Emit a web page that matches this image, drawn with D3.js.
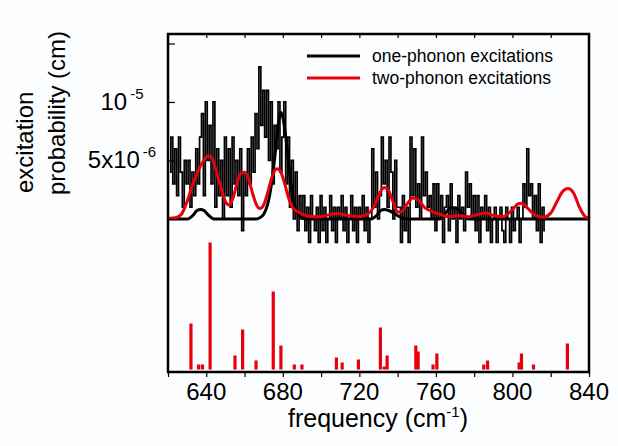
<!DOCTYPE html>
<html><head><meta charset="utf-8">
<script src="https://cdn.jsdelivr.net/npm/d3@7"></script>
<style>
body{margin:0;background:#fcfdff}
svg{display:block}
text{font-family:"Liberation Sans",Arial,Helvetica,sans-serif;fill:#000}
</style>
</head><body>
<svg id="chart" width="618" height="446"></svg>
<script>
// ---------- data ----------
// noisy histogram (units of 1e-6 cm), 1 cm^-1 bins starting at 621
const histStart = 621;
const histValues = [
  4, 7, 3, 6, 2, 7, 4, 1, 5, 3,
  5, 1, 4, 2, 6, 3, 7, 9, 2, 10,
  5, 8, 3, 10, 1, 6, 2, 5, 0, 7,
  2, 6, 1, 7, 3, 5, 2, 6, -1, 4,
  2, 6, 3, 7, 4, 9, 6, 13, 8, 11,
  7, 11, 5, 10, 3, 8, 6, 10, 4, 7,
  10, 3, 7, 1, 5, 0, 4, -1, 2, 0,
  2, -1, 1, -2, 2, 0, -1, 1, -2, 2,
  -1, 1, -2, 0, 2, -1, 1, -2, 1, 0,
  2, -1, 1, -2, 0, 2, -1, 1, -2, 1,
  0, 2, -1, 1, -2, 0, 6, 1, 4, 0,
  2, 7, 3, 5, 1, 7, 4, 0, 5, 1,
  1, -2, 2, -1, 1, -2, 7, 2, 6, 1,
  3, 0, 7, 2, 4, 1, 2, 0, 3, -1,
  3, 0, 2, -2, 1, 2, -1, 3, 0, 1,
  -2, 2, 0, 1, -1, 4, 1, 3, 0, 2,
  -1, 2, -2, 1, 0, 2, -1, 1, -2, 0,
  1, -2, 0, 1, -1, -2, 1, 0, -2, 1,
  -1, 0, 1, -2, 0, 3, 1, 6, 2, 3,
  0, 2, -1, 3, -2, 1, -1
];

// one-phonon excitations (smooth black), units 1e-6
const oneFreq = [620, 630, 633, 635, 637, 639, 641, 644, 666, 668, 670, 672, 674, 676, 678, 679, 680, 682, 684, 686, 688, 690, 693,
                 726, 729, 731, 733, 735, 738, 741, 744, 762, 765, 768, 771, 774, 777, 840];
const oneVal  = [0, 0, 0.3, 0.7, 0.8, 0.7, 0.35, 0, 0, 0.1, 0.4, 1.2, 2.9, 5.6, 8.5, 9.1, 8.7, 6.4, 3.3, 1.3, 0.4, 0.1, 0,
                 0, 0.3, 0.7, 0.8, 0.75, 0.5, 0.2, 0, 0, 0.5, 0.95, 0.9, 0.4, 0, 0];

// two-phonon excitations (smooth red), units 1e-6
const twoFreq = [620, 624, 627, 630, 633, 636, 639, 641, 643, 645, 648, 650, 652, 654, 656, 658, 660, 662, 664, 666, 668, 670,
                 672, 674, 676, 677, 679, 681, 683, 685, 688, 692, 696, 700, 705, 709, 714, 720, 725, 728, 730, 733, 735,
                 738, 740, 742, 745, 748, 751, 754, 757, 762, 767, 772, 777, 782, 786, 790, 795, 800, 803, 805, 808, 812,
                 816, 820, 823, 826, 829, 832, 835, 838, 840];
const twoVal  = [0.05, 0.1, 0.4, 1.5, 3.0, 4.2, 5.1, 5.4, 5.2, 4.2, 2.5, 1.5, 1.2, 1.8, 3.0, 3.9, 4.0, 3.5, 2.3, 1.3, 0.9, 1.2,
                 2.2, 3.4, 4.2, 4.3, 4.0, 3.0, 1.8, 1.0, 0.6, 0.3, 0.2, 0.2, 0.4, 0.45, 0.3, 0.2, 0.5, 1.2, 2.0, 2.7, 2.5,
                 1.3, 0.6, 0.6, 1.3, 1.8, 1.6, 1.0, 0.7, 0.4, 0.2, 0.3, 0.2, 0.4, 0.5, 0.3, 0.2, 0.8, 1.3, 1.35, 0.9, 0.3,
                 0.15, 0.5, 1.4, 2.3, 2.6, 2.2, 1.0, 0.2, 0.05];

// red sticks (two-phonon lines, arbitrary intensity)
const stickFreq = [632, 636, 638, 642, 655, 659, 666, 675, 679, 686, 690, 708, 711, 719.5, 731, 733, 734.5,
                   749.5, 750.7, 758.5, 760.5, 785, 787, 803.5, 804.7, 811, 828.7];
const stickInt  = [46, 5, 5, 127, 14, 40, 9, 78, 24, 5, 5, 12, 7, 10, 42, 3, 14,
                   24, 18, 5, 16, 5, 9, 7, 16, 5, 26];

// axis ticks / labels
const xTickValues = [620, 640, 660, 680, 700, 720, 740, 760, 780, 800, 820, 840];
const xLabelValues = [640, 680, 720, 760, 800, 840];
const yTickValues = [0, 5e-6, 1e-5, 1.5e-5];
const yLabelValues = [5e-6, 1e-5];
const yLabelMant = ["5x10", "10"];
const yLabelExp = ["-6", "-5"];
const legendLabels = ["one-phonon excitations", "two-phonon excitations"];
const seriesColors = ["#000000", "#e8000b"];

// ---------- layout ----------
const svg = d3.select("#chart");
const L = 168, R = 589, T = 34, B = 372;
const x = d3.scaleLinear().domain([620, 840]).range([L, R]);
const y = d3.scaleLinear().domain([-13.08e-6, 15.81e-6]).range([B, T]);
const yStick = d3.scaleLinear().domain([0, 130]).range([369.5, 239.5]);

const g = svg.append("g");

// sticks
g.selectAll("rect.stick").data(stickFreq.map((f, i) => ({f, v: stickInt[i]})))
  .enter().append("rect")
  .attr("x", d => x(d.f) - 1.6).attr("width", 3.2)
  .attr("y", d => yStick(d.v)).attr("height", d => yStick(0) - yStick(d.v))
  .attr("fill", seriesColors[1]);

// histogram
const histPts = histValues.map((v, i) => [histStart + i, v * 1e-6]);
const stepLine = d3.line().x(d => x(d[0])).y(d => y(d[1])).curve(d3.curveStep);
g.append("path").attr("d", stepLine(histPts))
  .attr("fill", "none").attr("stroke", "#000").attr("stroke-width", 1.7);

// smooth curves
const smooth = d3.line().x(d => x(d[0])).y(d => y(d[1] * 1e-6)).curve(d3.curveMonotoneX);
g.append("path").attr("d", smooth(oneFreq.map((f, i) => [f, oneVal[i]])))
  .attr("fill", "none").attr("stroke", seriesColors[0]).attr("stroke-width", 3);
g.append("path").attr("d", smooth(twoFreq.map((f, i) => [f, twoVal[i]])))
  .attr("fill", "none").attr("stroke", seriesColors[1]).attr("stroke-width", 3);

// frame
svg.append("rect").attr("x", L).attr("y", T).attr("width", R - L).attr("height", B - T)
  .attr("fill", "none").attr("stroke", "#000").attr("stroke-width", 2.5);

// bottom axis (outward ticks)
const xb = svg.append("g").attr("transform", `translate(0,${B})`)
  .call(d3.axisBottom(x).tickValues(xTickValues).tickSize(5).tickFormat(""));
xb.select(".domain").remove();
xb.selectAll(".tick line").attr("stroke-width", 1.2);
// top axis (inward ticks)
const xt = svg.append("g").attr("transform", `translate(0,${T})`)
  .call(d3.axisBottom(x).tickValues(xTickValues).tickSize(4).tickFormat(""));
xt.select(".domain").remove();
xt.selectAll(".tick line").attr("stroke-width", 1.2);
// left axis (inward ticks)
const yl = svg.append("g").attr("transform", `translate(${L},0)`)
  .call(d3.axisRight(y).tickValues(yTickValues).tickSize(7).tickFormat(""));
yl.select(".domain").remove();
yl.selectAll(".tick line").attr("stroke-width", 1.2);

// x labels
svg.selectAll("text.xl").data(xLabelValues).enter().append("text")
  .attr("x", d => x(d)).attr("y", 400).attr("text-anchor", "middle")
  .style("font-size", "24px").text(d => d);

// y labels with superscripts
yLabelValues.forEach((v, i) => {
  const t = svg.append("text").attr("x", 122).attr("y", y(v) + 8)
    .attr("text-anchor", "middle").style("font-size", "24px");
  t.append("tspan").text(yLabelMant[i]);
  t.append("tspan").attr("dy", -11).attr("dx", 3).style("font-size", "15px").text(yLabelExp[i]);
});

// x title
const xt2 = svg.append("text").attr("x", 378).attr("y", 427).attr("text-anchor", "middle")
  .style("font-size", "25px");
xt2.append("tspan").text("frequency (cm");
xt2.append("tspan").attr("dy", -10).style("font-size", "15px").text("-1");
xt2.append("tspan").attr("dy", 10).text(")");

// y title
svg.append("text").attr("transform", "translate(33,193) rotate(-90)")
  .attr("text-anchor", "start").style("font-size", "24px").text("excitation");
svg.append("text").attr("transform", "translate(65,195) rotate(-90)")
  .attr("text-anchor", "start").style("font-size", "24px").text("probability (cm)");

// legend
legendLabels.forEach((lab, i) => {
  const ly = 56 + i * 22;
  svg.append("line").attr("x1", 307).attr("x2", 360).attr("y1", ly).attr("y2", ly)
    .attr("stroke", seriesColors[i]).attr("stroke-width", 3);
  svg.append("text").attr("x", 372).attr("y", ly + 6).style("font-size", "17.5px").text(lab);
});
</script>
</body></html>
